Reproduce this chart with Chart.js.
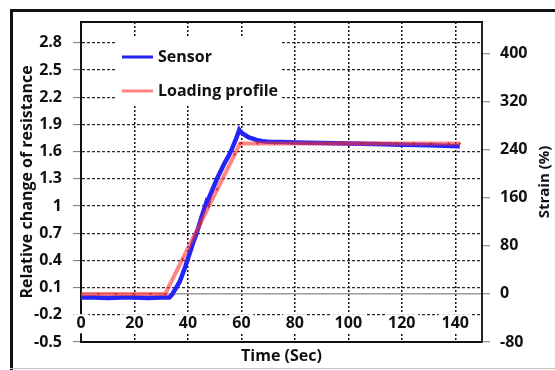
<!DOCTYPE html>
<html>
<head>
<meta charset="utf-8">
<title>Sensor response to loading</title>
<script src="https://cdn.jsdelivr.net/npm/chart.js@4.4.1/dist/chart.umd.min.js"></script>
<style>
  html, body { margin: 0; padding: 0; background: #fff; }
</style>
</head>
<body>
<canvas id="strainChart" width="555" height="370"></canvas>
<script>
// axis ticks
const timeTicks = [0, 20, 40, 60, 80, 100, 120, 140];
const resistanceTicks = [-0.5, -0.2, 0.1, 0.4, 0.7, 1, 1.3, 1.6, 1.9, 2.2, 2.5, 2.8];
const strainTicks = [-80, 0, 80, 160, 240, 320, 400];

// sensor reading (relative change of resistance)
const sensorTime = [0, 5, 10, 15, 20, 25, 30, 33, 34, 35, 36, 37, 38, 39, 40, 41, 42, 43, 44, 45, 46, 47, 47.5,
  48, 49, 50, 51, 52, 53, 54, 55, 56, 57, 58, 59.2, 60, 61, 62, 63, 64, 66, 68, 70, 75, 80,
  90, 100, 110, 120, 130, 141.7];
const sensorValue = [-0.01, -0.01, -0.015, -0.01, -0.01, -0.015, -0.01, -0.01, 0.02, 0.07, 0.12, 0.17, 0.25, 0.33, 0.42, 0.51, 0.60, 0.68, 0.77, 0.87, 0.96, 1.05, 1.03,
  1.10, 1.17, 1.24, 1.31, 1.37, 1.43, 1.49, 1.54, 1.60, 1.67, 1.74, 1.84, 1.81, 1.79, 1.77, 1.755, 1.745, 1.725, 1.715, 1.71, 1.705, 1.70,
  1.695, 1.69, 1.685, 1.675, 1.67, 1.66];

// applied loading profile (strain %)
const loadTime = [0, 6.5, 13, 19.5, 26, 31.5, 38, 44.5, 51, 57.5, 59.5, 66, 72.5, 79, 85.5, 92, 98.5,
  105, 111.5, 118, 124.5, 131, 137.5, 141.7];
const loadStrain = [0, 0, 0, 0, 0, 0, 58, 116, 174, 232, 250, 250, 250, 250, 250, 250, 250,
  250, 250, 250, 250, 250, 250, 250];

const FONT = '"Open Sans"';
const INK = '#111';
const boldFont = size => ({ family: FONT, size: size, weight: 'bold' });

function toPoints(xs, ys) {
  return xs.map((x, i) => ({ x: x, y: ys[i] }));
}

// white page + outer frame + top edge of the plot box
const framePlugin = {
  id: 'frame',
  beforeDraw(chart) {
    const { ctx, width, height } = chart;
    ctx.save();
    ctx.fillStyle = '#fff';
    ctx.fillRect(0, 0, width, height);
    ctx.fillStyle = INK;
    ctx.fillRect(10, 9, width - 10, 3);
    ctx.fillRect(10, 9, 3, height - 9);
    ctx.fillStyle = '#c4c4c4';
    ctx.fillRect(10, height - 2, width - 10, 1);
    ctx.restore();
  },
  afterDraw(chart) {
    const { ctx, chartArea } = chart;
    ctx.save();
    ctx.fillStyle = INK;
    ctx.fillRect(chartArea.left - 1, chartArea.top - 1, chartArea.width + 2, 2);
    ctx.restore();
  }
};

// right axis title, reading bottom to top like the left one
const rightTitle = {
  id: 'rightTitle',
  afterDraw(chart, args, opts) {
    const { ctx, chartArea } = chart;
    ctx.save();
    ctx.translate(chart.width - opts.inset, (chartArea.top + chartArea.bottom) / 2);
    ctx.rotate(-Math.PI / 2);
    ctx.font = 'bold ' + opts.size + 'px ' + FONT;
    ctx.fillStyle = INK;
    ctx.textAlign = 'center';
    ctx.textBaseline = 'middle';
    ctx.fillText(opts.text, 0, 0);
    ctx.restore();
  }
};

// legend drawn inside the plot, on a white patch
const insideLegend = {
  id: 'insideLegend',
  afterDraw(chart, args, opts) {
    const { ctx, chartArea } = chart;
    const x0 = chartArea.left + opts.x;
    const y0 = chartArea.top + opts.y;
    ctx.save();
    ctx.fillStyle = '#fff';
    ctx.fillRect(x0 - 5, y0 - 19, 163, 68);
    ctx.font = 'bold 16px ' + FONT;
    ctx.textBaseline = 'middle';
    chart.data.datasets.forEach((ds, i) => {
      const y = y0 + i * opts.rowGap;
      ctx.fillStyle = ds.borderColor;
      ctx.fillRect(x0, y - 1.5, 31, 3);
      ctx.fillStyle = INK;
      ctx.fillText(ds.label, x0 + 36, y);
    });
    ctx.restore();
  }
};

new Chart(document.getElementById('strainChart'), {
  type: 'line',
  data: {
    datasets: [
      {
        label: 'Sensor',
        data: toPoints(sensorTime, sensorValue),
        xAxisID: 'x',
        yAxisID: 'y',
        borderColor: 'rgb(35, 35, 250)',
        backgroundColor: 'rgb(35, 35, 250)',
        borderWidth: 4.5,
        pointRadius: 0,
        tension: 0,
        order: 2
      },
      {
        label: 'Loading profile',
        data: toPoints(loadTime, loadStrain),
        xAxisID: 'x',
        yAxisID: 'y2',
        borderColor: 'rgba(255, 50, 50, 0.6)',
        backgroundColor: 'rgba(255, 50, 50, 0.6)',
        borderWidth: 4,
        pointRadius: 1.2,
        pointBorderWidth: 0,
        pointBackgroundColor: 'rgba(215, 25, 25, 0.8)',
        tension: 0,
        order: 1
      }
    ]
  },
  options: {
    responsive: false,
    animation: false,
    events: [],
    layout: { padding: { left: 0, right: 0, top: 22, bottom: 0 } },
    font: { family: FONT },
    plugins: {
      legend: { display: false },
      tooltip: { enabled: false },
      insideLegend: { x: 41, y: 35, rowGap: 34 },
      rightTitle: { text: 'Strain (%)', size: 15, inset: 10 }
    },
    scales: {
      x: {
        type: 'linear',
        position: 'bottom',
        min: 0,
        max: 150,
        afterBuildTicks: s => { s.ticks = timeTicks.map(v => ({ value: v })); },
        afterFit: s => { s.height = 28; },
        ticks: { display: false },
        grid: { color: INK, lineWidth: 1.5, drawTicks: false },
        border: { display: true, color: INK, width: 2, dash: [2, 2] },
        title: {
          display: true,
          text: 'Time (Sec)',
          color: INK,
          font: boldFont(16),
          padding: { top: 0, bottom: 4 }
        }
      },
      // time labels sit inside the plot, just under the 0 strain level
      xl: {
        type: 'linear',
        position: { y: -0.105 },
        min: 0,
        max: 150,
        afterBuildTicks: s => { s.ticks = timeTicks.map(v => ({ value: v })); },
        grid: { display: false },
        border: { display: false },
        ticks: {
          z: 1,
          padding: 0,
          maxRotation: 0,
          autoSkip: false,
          color: INK,
          font: boldFont(16),
          showLabelBackdrop: true,
          backdropColor: '#fff',
          backdropPadding: { top: 0, bottom: 0, left: 3, right: 3 }
        }
      },
      y: {
        type: 'linear',
        position: 'left',
        min: -0.5,
        max: 3.03,
        afterBuildTicks: s => { s.ticks = resistanceTicks.map(v => ({ value: v })); },
        afterFit: s => { s.width = 81; },
        ticks: {
          padding: 11,
          color: INK,
          font: boldFont(16),
          callback: v => String(Math.round(v * 10) / 10)
        },
        grid: { color: '#2a2a2a', lineWidth: 1.2, tickLength: 8, tickColor: '#777', tickWidth: 1 },
        border: { display: true, color: INK, width: 2, dash: [3, 2] },
        title: {
          display: true,
          text: 'Relative change of resistance',
          color: INK,
          font: boldFont(16),
          padding: { top: 18, bottom: 0 }
        }
      },
      y2: {
        type: 'linear',
        position: 'right',
        min: -80,
        max: 452,
        afterBuildTicks: s => { s.ticks = strainTicks.map(v => ({ value: v })); },
        afterFit: s => { s.width = 73; },
        ticks: {
          padding: 10,
          color: INK,
          font: boldFont(16)
        },
        grid: {
          color: c => (c.tick && c.tick.value === 0 ? '#9c9c9c' : 'rgba(0,0,0,0)'),
          lineWidth: 1.5,
          tickLength: 8,
          tickColor: '#777',
          tickWidth: 1
        },
        border: { display: true, color: '#222', width: 2 }
      }
    }
  },
  plugins: [framePlugin, insideLegend, rightTitle]
});
</script>
</body>
</html>
